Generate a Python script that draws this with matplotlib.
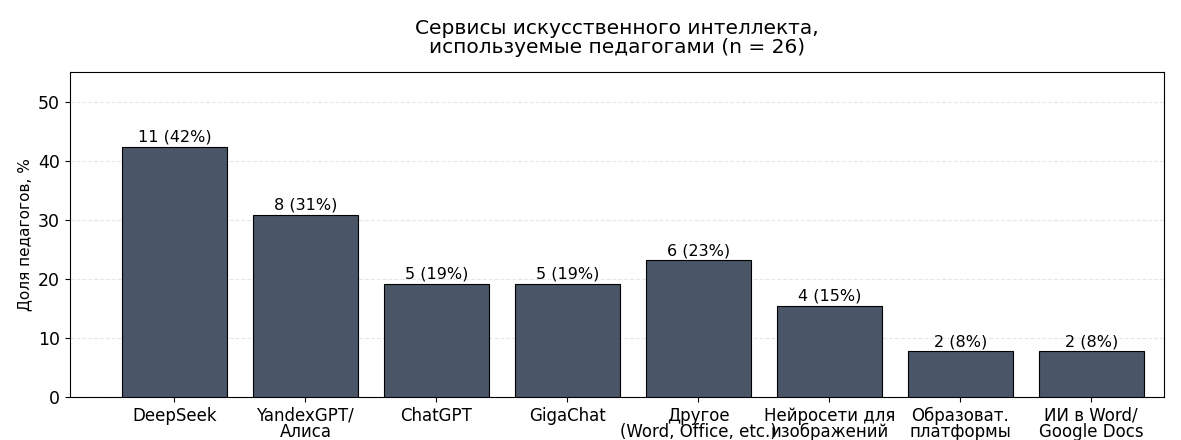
import matplotlib
matplotlib.use('Agg')
import matplotlib.pyplot as plt

# Данные
services = ['DeepSeek', 'YandexGPT/\nАлиса', 'ChatGPT', 'GigaChat',
            'Другое\n(Word, Office, etc.)', 'Нейросети для\nизображений',
            'Образоват.\nплатформы', 'ИИ в Word/\nGoogle Docs']
counts = [11, 8, 5, 5, 6, 4, 2, 2]
shares = [42.3, 30.8, 19.2, 19.2, 23.1, 15.4, 7.7, 7.7]
bar_labels = ['11 (42%)', '8 (31%)', '5 (19%)', '5 (19%)',
              '6 (23%)', '4 (15%)', '2 (8%)', '2 (8%)']

fig, ax = plt.subplots(figsize=(11.81, 4.4), dpi=100)
fig.subplots_adjust(left=0.059, right=0.986, top=0.836, bottom=0.098)

x = range(len(services))
bars = ax.bar(x, shares, width=0.8, color='#4a5568', edgecolor='black', linewidth=0.8, zorder=3)

for b, lab in zip(bars, bar_labels):
    ax.text(b.get_x() + b.get_width() / 2, b.get_height() + 0.4, lab,
            ha='center', va='bottom', fontsize=11.5)

ax.set_xticks(list(x))
ax.set_xticklabels(services, fontsize=12, linespacing=0.9)
ax.tick_params(axis='y', labelsize=12.5)
ax.set_xlim(-0.8, 7.56)
ax.set_ylim(0, 55)
ax.set_ylabel('Доля педагогов, %', fontsize=11)
ax.set_title('Сервисы искусственного интеллекта,\nиспользуемые педагогами (n = 26)',
             fontsize=14.5, pad=14, linespacing=1.0)
ax.grid(axis='y', linestyle='--', alpha=0.3, zorder=0)

plt.savefig('out.png', dpi=100)
